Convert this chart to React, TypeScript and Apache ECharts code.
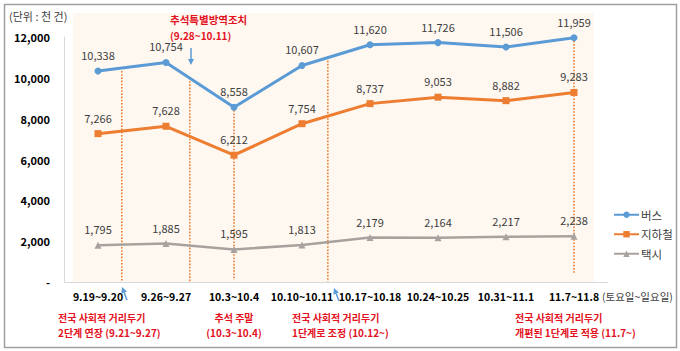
import React, { useEffect, useRef } from "react";
import * as echarts from "echarts";

const categories = ["9.19~9.20", "9.26~9.27", "10.3~10.4", "10.10~10.11", "10.17~10.18", "10.24~10.25", "10.31~11.1", "11.7~11.8"];
const busValues = [10338, 10754, 8558, 10607, 11620, 11726, 11506, 11959];
const subwayValues = [7266, 7628, 6212, 7754, 8737, 9053, 8882, 9283];
const taxiValues = [1795, 1885, 1595, 1813, 2179, 2164, 2217, 2238];
const seriesNames = ["버스", "지하철", "택시"];
const yTicks = [0, 2000, 4000, 6000, 8000, 10000, 12000];

const FONT = '"Noto Sans CJK KR", "Noto Sans", sans-serif';
const BLUE = "#5B9BD5";
const ORANGE = "#ED7D31";
const GRAY = "#A8A29E";
const RED = "#E3121E";

export default function App() {
  const ref = useRef<HTMLDivElement>(null);
  useEffect(() => {
    document.body.style.margin = "0";
    const chart = echarts.init(ref.current!, null, { renderer: "svg" });
    const label = () => ({
      show: true,
      position: "top",
      distance: 7,
      color: "#404040",
      fontSize: 11,
      fontFamily: FONT,
      formatter: (p: any) => Number(p.value).toLocaleString("en-US"),
    });
    const option: any = {
      animation: false,
      grid: { left: 64, right: 72, top: 37, bottom: 69 },
      xAxis: {
        type: "category",
        data: categories,
        boundaryGap: true,
        axisLine: { lineStyle: { color: "#d9d9d9", width: 1 } },
        axisTick: { show: false },
        axisLabel: { color: "#000", fontWeight: "bold", fontSize: 10.5, fontFamily: FONT, margin: 9, interval: 0 },
      },
      yAxis: {
        type: "value",
        min: yTicks[0],
        max: yTicks[yTicks.length - 1],
        interval: 2000,
        splitLine: { show: false },
        axisLine: { show: true, lineStyle: { color: "#d9d9d9" } },
        axisTick: { show: false },
        axisLabel: {
          color: "#000",
          fontWeight: "bold",
          fontSize: 11,
          fontFamily: FONT,
          margin: 14,
          formatter: (v: number) => (v === 0 ? "-" : v.toLocaleString("en-US")),
        },
      },
      legend: {
        orient: "vertical",
        left: 613,
        top: 209,
        padding: 0,
        itemWidth: 25,
        itemHeight: 8,
        itemGap: 8,
        textStyle: { color: "#404040", fontSize: 11.5, fontFamily: FONT, padding: [0, 0, 0, -3] },
        data: seriesNames,
      },
      series: [
        {
          name: seriesNames[0], type: "line", data: busValues, symbol: "circle", symbolSize: 7,
          lineStyle: { color: BLUE, width: 3 }, itemStyle: { color: BLUE }, label: label(), z: 5,
        },
        {
          name: seriesNames[1], type: "line", data: subwayValues, symbol: "rect", symbolSize: 7,
          lineStyle: { color: ORANGE, width: 3 }, itemStyle: { color: ORANGE }, label: label(), z: 5,
        },
        {
          name: seriesNames[2], type: "line", data: taxiValues, symbol: "triangle", symbolSize: 7,
          lineStyle: { color: GRAY, width: 2.5 }, itemStyle: { color: GRAY }, label: label(), z: 5,
        },
      ],
    };
    chart.setOption(option);

    const px = (i: number, v: number) => chart.convertToPixel({ gridIndex: 0 }, [i, v]) as number[];
    const x0 = px(0, 0)[0];
    const step = px(1, 0)[0] - x0;
    const yBottom = px(0, 0)[1];
    const busY = (f: number) => {
      const i = Math.floor(f);
      const t = f - i;
      const a = px(i, busValues[i])[1];
      const b = i + 1 < busValues.length ? px(i + 1, busValues[i + 1])[1] : a;
      return a + (b - a) * t;
    };
    const dotted = (f: number, yEnd: number) => ({
      type: "line",
      z: 1,
      shape: { x1: x0 + f * step, y1: busY(f) + 3, x2: x0 + f * step, y2: yEnd },
      style: { stroke: ORANGE, lineWidth: 1.6, lineDash: [1.6, 1.6] },
    });
    const arrow = (tx: number, ty: number, hx: number, hy: number) => {
      const ang = Math.atan2(hy - ty, hx - tx);
      const len = 6, wid = 3;
      const bx = hx - len * Math.cos(ang), by = hy - len * Math.sin(ang);
      const nx = -Math.sin(ang) * wid, ny = Math.cos(ang) * wid;
      return [
        { type: "line", z: 10, shape: { x1: tx, y1: ty, x2: bx, y2: by }, style: { stroke: BLUE, lineWidth: 1.5 } },
        { type: "polygon", z: 10, shape: { points: [[hx, hy], [bx + nx, by + ny], [bx - nx, by - ny]] }, style: { fill: BLUE } },
      ];
    };
    const txt = (text: string, x: number, y: number, opts: any = {}) => ({
      type: "text",
      z: 10,
      x,
      y,
      style: {
        text,
        fill: opts.fill || RED,
        font: opts.font || `bold 10px ${FONT}`,
        align: opts.align || "left",
        verticalAlign: "middle",
      },
    });
    const graphic: any[] = [
      { type: "rect", z: -10, silent: true, shape: { x: 73, y: 13, width: 521, height: yBottom - 13 }, style: { fill: "#FEF8F1" } },
      { type: "rect", z: -10, silent: true, shape: { x: 4.5, y: 4.5, width: 672, height: 343 }, style: { fill: "none", stroke: "#A0A0A0", lineWidth: 1.5 } },
      dotted(0.35, yBottom),
      dotted(1.35, yBottom),
      dotted(2, yBottom - 2),
      dotted(3.38, yBottom),
      dotted(7, yBottom - 8),
      ...arrow(191, 48, 191, 65),
      ...arrow(127, 300, 122, 287),
      ...arrow(339, 301, 334, 288),
      txt("(단위 : 천 건)", 9, 16, { fill: "#404040", font: `11px ${FONT}` }),
      txt("추석특별방역조치", 170, 19, { font: `bold 10.5px ${FONT}` }),
      txt("(9.28~10.11)", 170, 35),
      txt("전국 사회적 거리두기", 58, 317),
      txt("2단계 연장 (9.21~9.27)", 58, 332),
      txt("추석 주말", x0 + 2 * step, 317, { align: "center" }),
      txt("(10.3~10.4)", x0 + 2 * step, 332, { align: "center" }),
      txt("전국 사회적 거리두기", 292, 317),
      txt("1단계로 조정 (10.12~)", 292, 332),
      txt("전국 사회적 거리두기", 515, 317),
      txt("개편된 1단계로 적용 (11.7~)", 515, 332),
      txt("(토요일~일요일)", 602, 296, { fill: "#404040", font: `10.5px ${FONT}` }),
    ];
    chart.setOption({ graphic });
    return () => chart.dispose();
  }, []);
  return <div ref={ref} style={{ width: 680, height: 351 }} />;
}
